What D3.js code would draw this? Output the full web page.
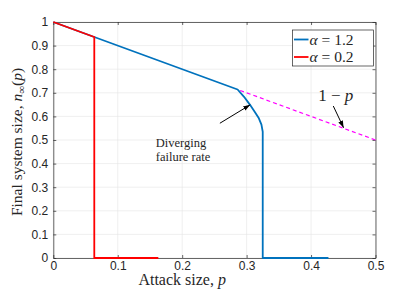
<!DOCTYPE html>
<html>
<head>
<meta charset="utf-8">
<script src="https://cdn.jsdelivr.net/npm/d3@7"></script>
<style>
  body { margin: 0; background: #fff; }
  .tick text { font-family: "Liberation Sans", Arial, sans-serif; font-size: 12px; fill: #262626; }
  .lbl { font-family: "Liberation Serif", "DejaVu Serif", serif; fill: #262626; }
</style>
</head>
<body>
<div id="chart"></div>
<script>
// values
let blueP = [0, 0.286, 0.296, 0.305, 0.313, 0.319, 0.323, 0.325, 0.325, 0.325, 0.427];
let blueN = [1, 0.714, 0.683, 0.65, 0.618, 0.592, 0.565, 0.535, 0.45, 0, 0];
let redP = [0, 0.0636, 0.0636, 0.163];
let redN = [1, 0.9364, 0, 0];
let dashP = [0.29, 0.5];
let dashN = [0.71, 0.5];
let xTicks = [0, 0.1, 0.2, 0.3, 0.4, 0.5];
let yTicks = [0, 0.1, 0.2, 0.3, 0.4, 0.5, 0.6, 0.7, 0.8, 0.9, 1];
let legendLabels = ["1.2", "0.2"];

// set the dimensions and margins of the graph
let margin = {top: 22, right: 39.5, bottom: 33, left: 53.3},
    width = 415 - margin.left - margin.right,
    height = 291 - margin.top - margin.bottom;

let svg = d3.select("#chart")
  .append("svg")
    .attr("width", 415)
    .attr("height", 291)
  .append("g")
    .attr("transform", "translate(" + margin.left + "," + margin.top + ")");

let x = d3.scaleLinear().domain([0, 0.5]).range([0, width]);
let y = d3.scaleLinear().domain([0, 1]).range([height, 0]);

// grid
svg.append("g")
  .selectAll("line.gx")
  .data(xTicks)
  .enter().append("line")
    .attr("x1", d => x(d)).attr("x2", d => x(d))
    .attr("y1", 0).attr("y2", height)
    .attr("stroke", "#e4e4e4").attr("stroke-width", 0.6);
svg.append("g")
  .selectAll("line.gy")
  .data(yTicks)
  .enter().append("line")
    .attr("x1", 0).attr("x2", width)
    .attr("y1", d => y(d)).attr("y2", d => y(d))
    .attr("stroke", "#e4e4e4").attr("stroke-width", 0.6);

// axes, ticks inward on all sides
let fmt = d3.format("~g");
function styleAxis(g) {
  g.selectAll(".domain").attr("stroke", "#262626").attr("stroke-width", 0.7);
  g.selectAll(".tick line").attr("stroke", "#262626").attr("stroke-width", 0.7);
}
svg.append("g")
  .attr("transform", "translate(0," + height + ")")
  .call(d3.axisBottom(x).tickValues(xTicks).tickFormat(fmt).tickSizeInner(-3).tickSizeOuter(0).tickPadding(3))
  .call(styleAxis);
svg.append("g")
  .call(d3.axisTop(x).tickValues(xTicks).tickFormat("").tickSizeInner(-3).tickSizeOuter(0))
  .call(styleAxis);
svg.append("g")
  .call(d3.axisLeft(y).tickValues(yTicks).tickFormat(fmt).tickSizeInner(-3).tickSizeOuter(0).tickPadding(5))
  .call(styleAxis);
svg.append("g")
  .attr("transform", "translate(" + width + ",0)")
  .call(d3.axisRight(y).tickValues(yTicks).tickFormat("").tickSizeInner(-3).tickSizeOuter(0))
  .call(styleAxis);

let line = d3.line().x(d => x(d[0])).y(d => y(d[1]));

// dashed 1-p
svg.append("path")
  .datum(d3.zip(dashP, dashN))
  .attr("d", line)
  .attr("fill", "none").attr("stroke", "#ff00ff").attr("stroke-width", 1.2)
  .attr("stroke-dasharray", "4,3");

svg.append("path")
  .datum(d3.zip(blueP, blueN))
  .attr("d", line)
  .attr("fill", "none").attr("stroke", "#0072bd").attr("stroke-width", 1.8)
  .attr("stroke-linejoin", "round");

svg.append("path")
  .datum(d3.zip(redP, redN))
  .attr("d", line)
  .attr("fill", "none").attr("stroke", "#ff0000").attr("stroke-width", 1.8);

// annotations
let defs = svg.append("defs");
defs.append("marker")
  .attr("id", "arr").attr("viewBox", "0 0 10 10")
  .attr("refX", 10).attr("refY", 5)
  .attr("markerWidth", 7).attr("markerHeight", 7)
  .attr("orient", "auto")
  .append("path").attr("d", "M0,1.5 L10,5 L0,8.5 z").attr("fill", "#000");

function arrow(p1, n1, p2, n2) {
  svg.append("line")
    .attr("x1", x(p1)).attr("y1", y(n1))
    .attr("x2", x(p2)).attr("y2", y(n2))
    .attr("stroke", "#000").attr("stroke-width", 1)
    .attr("marker-end", "url(#arr)");
}
arrow(0.2585, 0.571, 0.3055, 0.649);
arrow(0.4345, 0.644, 0.4505, 0.552);

let dv = svg.append("text").attr("class", "lbl")
  .attr("x", x(0.159)).attr("y", y(0.472))
  .style("font-size", "12.5px");
dv.append("tspan").text("Diverging");
dv.append("tspan").attr("x", x(0.159)).attr("dy", 14.5).text("failure rate");

let om = svg.append("text").attr("class", "lbl")
  .attr("x", x(0.411)).attr("y", y(0.665))
  .style("font-size", "17px");
om.append("tspan").text("1 − ");
om.append("tspan").style("font-style", "italic").text("p");

// legend
let lg = svg.append("g").attr("transform", "translate(" + (292.5 - margin.left) + "," + (30 - margin.top) + ")");
lg.append("rect").attr("width", 81).attr("height", 36)
  .attr("fill", "#fff").attr("stroke", "#262626").attr("stroke-width", 0.7);
let lcol = ["#0072bd", "#ff0000"];
legendLabels.forEach(function(l, i) {
  let yy = 9.5 + i * 17.5;
  lg.append("line").attr("x1", 1.5).attr("x2", 16).attr("y1", yy).attr("y2", yy)
    .attr("stroke", lcol[i]).attr("stroke-width", 1.8);
  let t = lg.append("text").attr("class", "lbl").attr("x", 17).attr("y", yy + 5)
    .style("font-size", "15.5px");
  t.append("tspan").style("font-style", "italic").text("α");
  t.append("tspan").text(" = " + l);
});

// axis labels
svg.append("text").attr("class", "lbl")
  .attr("text-anchor", "middle")
  .attr("x", x(0.2)).attr("y", height + 27)
  .style("font-size", "16px")
  .call(t => {
    t.append("tspan").text("Attack size, ");
    t.append("tspan").style("font-style", "italic").text("p");
  });

svg.append("text").attr("class", "lbl")
  .attr("text-anchor", "middle")
  .attr("transform", "translate(" + (-31.5) + "," + (height / 2 + 2) + ") rotate(-90)")
  .style("font-size", "15.5px")
  .call(t => {
    t.append("tspan").text("Final system size, ");
    t.append("tspan").style("font-style", "italic").text("n");
    t.append("tspan").style("font-size", "11px").attr("dy", 3).text("∞");
    t.append("tspan").attr("dy", -3).text("(");
    t.append("tspan").style("font-style", "italic").text("p");
    t.append("tspan").text(")");
  });
</script>
</body>
</html>
